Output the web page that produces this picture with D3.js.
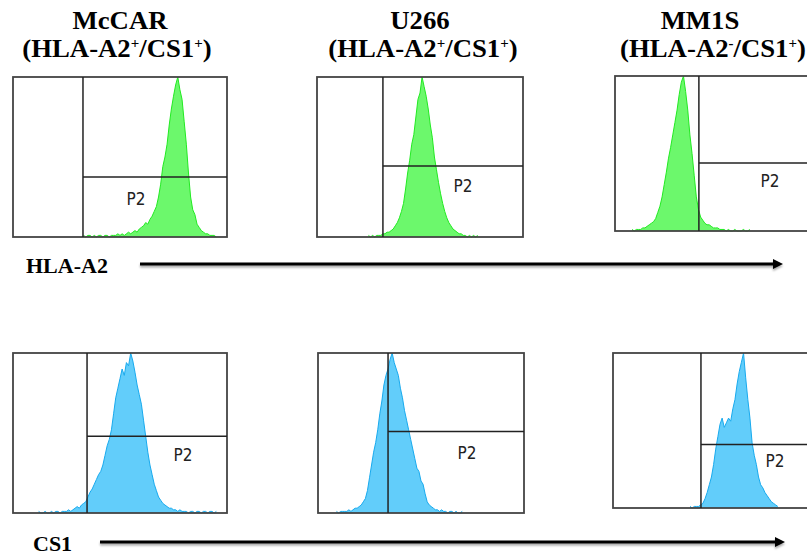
<!DOCTYPE html>
<html>
<head>
<meta charset="utf-8">
<script src="https://cdn.jsdelivr.net/npm/d3@7"></script>
<style>
  html, body { margin: 0; padding: 0; background: #fff; }
  svg { display: block; }
</style>
</head>
<body>
<svg id="chart" width="807" height="555"></svg>
<script>
// cell lines and phenotype signs shown in the titles
var cellLines = ["McCAR", "U266", "MM1S"];
var hlaSigns = ["+", "+", "-"];
var cs1Signs = ["+", "+", "+"];
var markers = ["HLA-A2", "CS1"];
var gateName = "P2";

// histogram counts (% of peak), one value per channel unit, starting at *Start
var mccarHlaStart = 33;
var mccarHla = [1,0,1,1,0,1,0,1,1,0,1,1,0,1,1,1,2,1,2,1,2,3,2,
  3,4,3,5,6,7,9,8,11,13,16,19,25,33,44,50,58,70,80,88,95,100,92,86,72,58,40,25,17,14,8,6,4,3,2,2,1,1,1,0];

var u266HlaStart = 25;
var u266Hla = [1,0,1,0,1,1,1,2,2,3,3,4,5,7,9,12,16,21,30,40,48,58,64,75,86,90,100,94,88,80,
  70,62,50,42,34,27,21,16,12,9,7,5,4,3,2,2,1,1,0,1,0,1,0,1];

var mm1sHlaStart = 8;
var mm1sHla = [1,0,1,1,1,2,2,3,4,5,6,8,12,16,22,30,38,47,54,62,70,78,88,96,100,90,78,62,50,36,
  22,14,9,7,5,4,4,3,2,2,2,1,1,1,0,1,0,0,1,0,0,0,1,0,0,1];

var mccarCs1Start = 12;
var mccarCs1 = [1,0,0,1,0,0,1,0,1,1,0,1,1,1,2,1,2,3,4,3,5,6,7,10,13,15,18,21,24,26,30,36,42,46,52,62,
  72,78,84,90,86,94,92,100,95,88,80,74,68,58,48,38,30,24,18,14,10,8,6,5,4,3,3,2,2,1,2,1,1,1,0,1,1,0,1,1,0,1,1,0,1,1,0,1];

var u266Cs1Start = 9;
var u266Cs1 = [1,0,1,1,1,1,2,1,2,3,3,4,5,7,9,14,22,30,38,44,52,62,70,80,86,90,96,100,94,90,86,78,72,64,
  58,52,46,40,34,28,26,20,18,12,7,5,4,3,2,2,1,2,1,1,0,1,1,0,1,0,0,1];

var mm1sCs1Start = 36;
var mm1sCs1 = [1,0,1,1,1,2,3,6,10,15,20,28,38,46,54,58,52,55,58,56,64,70,80,88,94,100,84,70,58,42,
  34,28,20,15,13,10,8,6,4,3,2,1];

// gate positions in channel units / % of peak
var gateX = [[32.7, 32, 39.2], [34.6, 34, 41.1]];
var gateY = [[37.5, 44.4, 43.9], [48, 51, 41]];
var labelX = [[57.5, 70.9, 72.4], [79.4, 72.3, 75.7]];
var labelY = [[24, 32, 32], [36, 37.5, 30]];

var hists = [
  [{ start: mccarHlaStart, counts: mccarHla }, { start: u266HlaStart, counts: u266Hla }, { start: mm1sHlaStart, counts: mm1sHla }],
  [{ start: mccarCs1Start, counts: mccarCs1 }, { start: u266Cs1Start, counts: u266Cs1 }, { start: mm1sCs1Start, counts: mm1sCs1 }]
];

// panel frames on the page
var frames = [
  [{ x: 13, y: 77, w: 214, h: 160 }, { x: 317, y: 77, w: 206, h: 160 }, { x: 615, y: 76, w: 214, h: 155 }],
  [{ x: 13, y: 353, w: 214, h: 160 }, { x: 318, y: 353, w: 206, h: 160 }, { x: 613, y: 353, w: 214, h: 155 }]
];
var fills = ["#6cf86c", "#62cdfa"];
var strokes = ["#22ea22", "#18aaee"];

var svg = d3.select("#chart");
var serif = "'Liberation Serif', 'Times New Roman', serif";
var narrow = "'Liberation Sans Narrow', 'DejaVu Sans Condensed', 'Arial Narrow', sans-serif";

var defs = svg.append("defs");
defs.append("filter").attr("id", "shadow")
  .attr("x", "-5%").attr("y", "-200%").attr("width", "110%").attr("height", "500%")
  .append("feDropShadow")
  .attr("dx", 0).attr("dy", 2).attr("stdDeviation", 1.2)
  .attr("flood-color", "#000").attr("flood-opacity", 0.35);

// titles (slightly widened serif, like the source slide)
var titlePos = [
  { c1: 120, c2: 117 },
  { c1: 700 - 280, c2: 423 },
  { c1: 700, c2: 713 }
];
cellLines.forEach(function (name, i) {
  svg.append("text")
    .attr("transform", "translate(" + titlePos[i].c1 + ",28.5) scale(1.07,1)")
    .attr("text-anchor", "middle")
    .attr("font-family", serif).attr("font-weight", "bold").attr("font-size", 25)
    .text(name);

  var t = svg.append("text")
    .attr("transform", "translate(" + titlePos[i].c2 + ",56.5) scale(1.07,1)")
    .attr("text-anchor", "middle")
    .attr("font-family", serif).attr("font-weight", "bold").attr("font-size", 25);
  t.append("tspan").text("(HLA-A2");
  t.append("tspan").attr("font-size", 14).attr("dy", -9).text(hlaSigns[i]);
  t.append("tspan").attr("dy", 9).text("/CS1");
  t.append("tspan").attr("font-size", 14).attr("dy", -9).text(cs1Signs[i]);
  t.append("tspan").attr("dy", 9).text(")");
});

// histogram panels
frames.forEach(function (row, r) {
  row.forEach(function (f, c) {
    var g = svg.append("g");
    var x = d3.scaleLinear().domain([0, 100]).range([f.x, f.x + f.w]);
    var y = d3.scaleLinear().domain([0, 100]).range([f.y + f.h, f.y]);
    var h = hists[r][c];
    var pts = h.counts.map(function (v, i) { return [h.start + i, v]; });

    g.append("path").datum(pts)
      .attr("d", d3.area()
        .x(function (d) { return x(d[0]); })
        .y0(y(0))
        .y1(function (d) { return y(d[1]); }))
      .attr("fill", fills[r]);

    g.append("path").datum(pts)
      .attr("d", d3.line()
        .x(function (d) { return x(d[0]); })
        .y(function (d) { return y(d[1]); }))
      .attr("fill", "none")
      .attr("stroke", strokes[r])
      .attr("stroke-width", 1);

    g.append("rect")
      .attr("x", x(0)).attr("y", y(100))
      .attr("width", x(100) - x(0)).attr("height", y(0) - y(100))
      .attr("fill", "none").attr("stroke", "#444").attr("stroke-width", 1.8);

    g.append("line")
      .attr("x1", x(gateX[r][c])).attr("x2", x(gateX[r][c]))
      .attr("y1", y(100)).attr("y2", y(0))
      .attr("stroke", "#222").attr("stroke-width", 1.5);

    g.append("line")
      .attr("x1", x(gateX[r][c])).attr("x2", x(100))
      .attr("y1", y(gateY[r][c])).attr("y2", y(gateY[r][c]))
      .attr("stroke", "#222").attr("stroke-width", 1.5);

    g.append("text")
      .attr("x", x(labelX[r][c])).attr("y", y(labelY[r][c]))
      .attr("dy", "0.35em")
      .attr("text-anchor", "middle")
      .attr("font-family", narrow).attr("font-stretch", "condensed")
      .attr("font-size", 17).attr("fill", "#222")
      .text(gateName);
  });
});

// marker axis arrows
var arrows = [
  { label: markers[0], lx: 26, ly: 273, size: 22, x1: 140, x2: 783, y: 264 },
  { label: markers[1], lx: 33, ly: 551, size: 22, x1: 100, x2: 785, y: 542 }
];
arrows.forEach(function (a) {
  svg.append("text")
    .attr("x", a.lx).attr("y", a.ly)
    .attr("font-family", serif).attr("font-weight", "bold").attr("font-size", a.size)
    .text(a.label);

  var g = svg.append("g").attr("filter", "url(#shadow)");
  g.append("line")
    .attr("x1", a.x1).attr("x2", a.x2 - 8)
    .attr("y1", a.y).attr("y2", a.y)
    .attr("stroke", "#000").attr("stroke-width", 3);
  g.append("path")
    .attr("d", "M" + (a.x2 - 10) + "," + (a.y - 5) + "L" + a.x2 + "," + a.y + "L" + (a.x2 - 10) + "," + (a.y + 5) + "Z")
    .attr("fill", "#000");
});
</script>
</body>
</html>
